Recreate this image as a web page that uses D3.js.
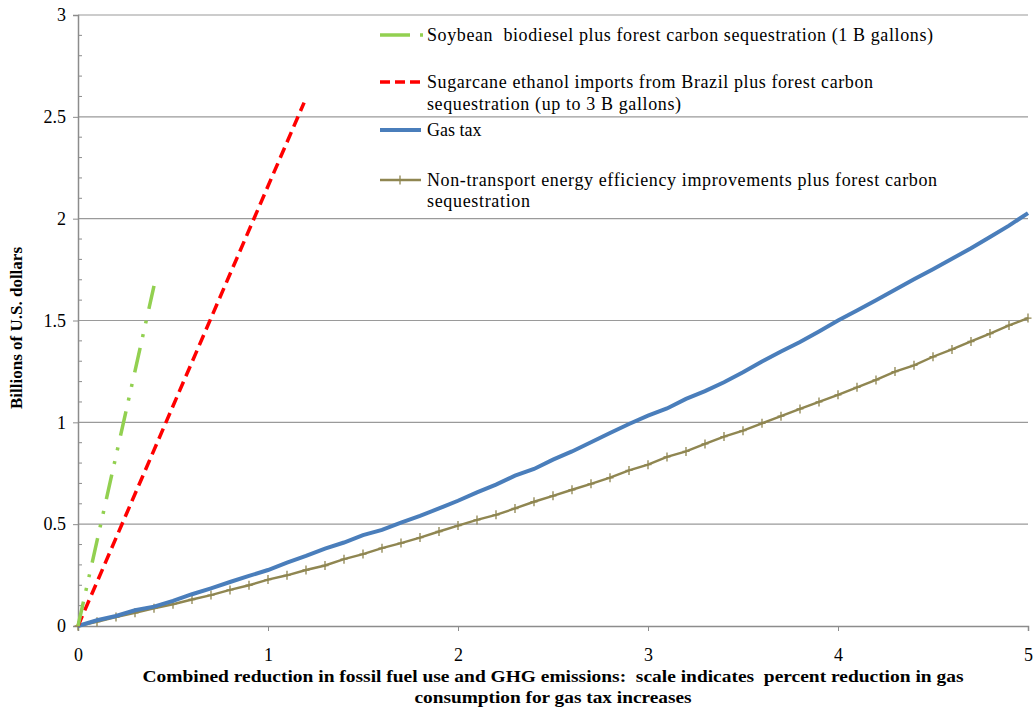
<!DOCTYPE html>
<html>
<head>
<meta charset="utf-8">
<script src="https://cdn.jsdelivr.net/npm/d3@7"></script>
<style>
  body { margin: 0; background: #fff; }
  svg { display: block; font-family: "Liberation Serif", "DejaVu Serif", serif; }
</style>
</head>
<body>
<div id="chart"></div>
<script>
// x: percent reduction in gas consumption (categories every 0.1)
var reduction = [0, 0.1, 0.2, 0.3, 0.4, 0.5, 0.6, 0.7, 0.8, 0.9,
  1, 1.1, 1.2, 1.3, 1.4, 1.5, 1.6, 1.7, 1.8, 1.9,
  2, 2.1, 2.2, 2.3, 2.4, 2.5, 2.6, 2.7, 2.8, 2.9,
  3, 3.1, 3.2, 3.3, 3.4, 3.5, 3.6, 3.7, 3.8, 3.9,
  4, 4.1, 4.2, 4.3, 4.4, 4.5, 4.6, 4.7, 4.8, 4.9, 5];

var gasTax = [0, 0.028, 0.049, 0.077, 0.095, 0.123, 0.156, 0.185, 0.216, 0.246,
  0.275, 0.311, 0.344, 0.38, 0.41, 0.446, 0.472, 0.508, 0.541, 0.577,
  0.615, 0.656, 0.694, 0.738, 0.771, 0.817, 0.857, 0.902, 0.948, 0.992,
  1.033, 1.068, 1.115, 1.153, 1.197, 1.246, 1.299, 1.348, 1.394, 1.446,
  1.5, 1.549, 1.599, 1.651, 1.702, 1.752, 1.803, 1.855, 1.91, 1.966, 2.027];

var nonTransport = [0, 0.021, 0.044, 0.065, 0.087, 0.107, 0.13, 0.152, 0.177, 0.2,
  0.228, 0.249, 0.275, 0.297, 0.328, 0.353, 0.382, 0.407, 0.434, 0.464,
  0.493, 0.521, 0.546, 0.577, 0.61, 0.639, 0.669, 0.698, 0.728, 0.764,
  0.792, 0.83, 0.857, 0.894, 0.93, 0.959, 0.995, 1.03, 1.066, 1.1,
  1.135, 1.172, 1.208, 1.249, 1.28, 1.322, 1.358, 1.397, 1.436, 1.476, 1.512];

var soybeanX = [0, 0.4];
var soybeanY = [0, 1.67];
var sugarcaneX = [0, 1.19];
var sugarcaneY = [0, 2.57];

var yTicks = [0, 0.5, 1, 1.5, 2, 2.5, 3];
var xTicks = [0, 1, 2, 3, 4, 5];

var width = 1034, height = 711;
var plotLeft = 78, plotRight = 1028, plotTop = 15, plotBottom = 626;

var svg = d3.select("#chart").append("svg")
    .attr("width", width)
    .attr("height", height);

var x = d3.scaleLinear().domain([0, 5]).range([plotLeft, plotRight]);
var y = d3.scaleLinear().domain([0, 3]).range([plotBottom, plotTop]);

// gridlines
svg.append("g")
    .selectAll("line")
    .data(yTicks.filter(function(d){ return d > 0; }))
    .enter().append("line")
    .attr("x1", plotLeft).attr("x2", plotRight)
    .attr("y1", function(d){ return y(d); })
    .attr("y2", function(d){ return y(d); })
    .attr("stroke", "#9a9a9a")
    .attr("stroke-width", 1.2);

// minor ticks on y axis
svg.append("g")
    .selectAll("line")
    .data(d3.range(1, 30).filter(function(i){ return i % 5; }).map(function(i){ return i / 10; }))
    .enter().append("line")
    .attr("x1", plotLeft).attr("x2", plotLeft + 4)
    .attr("y1", function(d){ return y(d); })
    .attr("y2", function(d){ return y(d); })
    .attr("stroke", "#8c8c8c");

var yAxis = svg.append("g")
    .attr("transform", "translate(" + plotLeft + ",0)")
    .call(d3.axisLeft(y).tickValues(yTicks).tickSize(5).tickPadding(7).tickFormat(d3.format("")));

var xAxis = svg.append("g")
    .attr("transform", "translate(0," + plotBottom + ")")
    .call(d3.axisBottom(x).tickValues(xTicks).tickSize(5).tickPadding(17).tickFormat(d3.format("d")));

[yAxis, xAxis].forEach(function(a){
    a.select(".domain").attr("stroke", "#8c8c8c").attr("stroke-width", 1.5);
    a.selectAll(".tick line").attr("stroke", "#8c8c8c");
    a.selectAll("text")
        .attr("fill", "#000")
        .style("font-family", "Liberation Serif")
        .style("font-size", "18px");
});

var line = d3.line()
    .x(function(d){ return x(d[0]); })
    .y(function(d){ return y(d[1]); });

// non-transport efficiency
var ntData = d3.zip(reduction, nonTransport);
svg.append("path")
    .datum(ntData)
    .attr("d", line)
    .attr("fill", "none")
    .attr("stroke", "#8f8651")
    .attr("stroke-width", 2.4);

svg.append("g")
    .selectAll("path")
    .data(ntData)
    .enter().append("path")
    .attr("d", function(d){
        var cx = x(d[0]), cy = y(d[1]);
        return "M" + (cx - 3.5) + "," + cy + "H" + (cx + 3.5) + "M" + cx + "," + (cy - 4.5) + "V" + (cy + 4.5);
    })
    .attr("stroke", "#8f8651")
    .attr("stroke-width", 1.3);

// gas tax
svg.append("path")
    .datum(d3.zip(reduction, gasTax))
    .attr("d", line)
    .attr("fill", "none")
    .attr("stroke", "#4a7ebb")
    .attr("stroke-width", 4);

// sugarcane
svg.append("path")
    .datum(d3.zip(sugarcaneX, sugarcaneY))
    .attr("d", line)
    .attr("fill", "none")
    .attr("stroke", "#ff0000")
    .attr("stroke-width", 3.5)
    .attr("stroke-dasharray", "11,6");

// soybean
svg.append("path")
    .datum(d3.zip(soybeanX, soybeanY))
    .attr("d", line)
    .attr("fill", "none")
    .attr("stroke", "#92d050")
    .attr("stroke-width", 3.5)
    .attr("stroke-dasharray", "25,11,3,11,3,12");

// legend
var legend = svg.append("g")
    .style("font-family", "Liberation Serif")
    .style("font-size", "18px");

legend.append("line").attr("x1", 380).attr("x2", 410).attr("y1", 35).attr("y2", 35)
    .attr("stroke", "#92d050").attr("stroke-width", 3.5);
legend.append("line").attr("x1", 420).attr("x2", 423).attr("y1", 35).attr("y2", 35)
    .attr("stroke", "#92d050").attr("stroke-width", 3.5);

legend.append("line").attr("x1", 380).attr("x2", 420).attr("y1", 82).attr("y2", 82)
    .attr("stroke", "#ff0000").attr("stroke-width", 3.5).attr("stroke-dasharray", "10,5");

legend.append("line").attr("x1", 380).attr("x2", 421).attr("y1", 130).attr("y2", 130)
    .attr("stroke", "#4a7ebb").attr("stroke-width", 4);

legend.append("line").attr("x1", 380).attr("x2", 421).attr("y1", 180).attr("y2", 180)
    .attr("stroke", "#8f8651").attr("stroke-width", 2.4);
legend.append("path").attr("d", "M396.5,180H403.5M400,175.5V184.5")
    .attr("stroke", "#8f8651").attr("stroke-width", 1.3);

var legendText = [
    {t: "Soybean  biodiesel plus forest carbon sequestration (1 B gallons)", y: 41, w: 506},
    {t: "Sugarcane ethanol imports from Brazil plus forest carbon", y: 88, w: 446},
    {t: "sequestration (up to 3 B gallons)", y: 110, w: 254},
    {t: "Gas tax", y: 136, w: null},
    {t: "Non-transport energy efficiency improvements plus forest carbon", y: 186, w: 510},
    {t: "sequestration", y: 207, w: 103}
];
legend.selectAll("text")
    .data(legendText)
    .enter().append("text")
    .attr("x", 427)
    .attr("y", function(d){ return d.y; })
    .attr("textLength", function(d){ return d.w; })
    .attr("lengthAdjust", "spacing")
    .style("white-space", "pre")
    .text(function(d){ return d.t; });

// axis titles
svg.append("text")
    .attr("transform", "translate(22,328) rotate(-90)")
    .attr("text-anchor", "middle")
    .style("font-size", "17px")
    .style("font-weight", "bold")
    .text("Billions of U.S. dollars");

var xTitle = [
    {t: "Combined reduction in fossil fuel use and GHG emissions:  scale indicates  percent reduction in gas", y: 682, w: 821},
    {t: "consumption for gas tax increases", y: 703, w: 277}
];
svg.selectAll(".xtitle")
    .data(xTitle)
    .enter().append("text")
    .attr("class", "xtitle")
    .attr("x", 553)
    .attr("y", function(d){ return d.y; })
    .attr("text-anchor", "middle")
    .attr("textLength", function(d){ return d.w; })
    .attr("lengthAdjust", "spacingAndGlyphs")
    .style("white-space", "pre")
    .style("font-size", "17px")
    .style("font-weight", "bold")
    .text(function(d){ return d.t; });
</script>
</body>
</html>
